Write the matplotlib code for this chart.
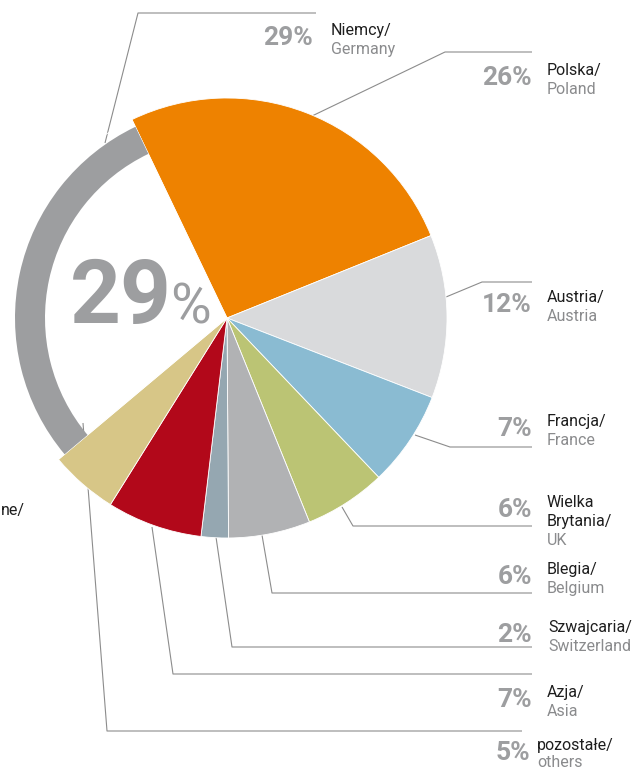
import matplotlib
matplotlib.use("Agg")
import matplotlib.pyplot as plt

# ---- data -------------------------------------------------------------
labels_pl = ["Polska/", "Austria/", "Francja/", "Wielka\nBrytania/", "Blegia/",
             "Szwajcaria/", "Azja/", "pozostałe/", "Niemcy/"]
labels_en = ["Poland", "Austria", "France", "UK", "Belgium",
             "Switzerland", "Asia", "others", "Germany"]
shares = [26, 12, 7, 6, 6, 2, 7, 5, 29]
highlight_share = 29   # big number in the ring (Germany)

colors = ["#EE8200", "#D9DADC", "#8ABBD2", "#BBC474", "#B1B2B4",
          "#95A7B1", "#B2081A", "#D7C687", "none"]
ring_color = "#9D9EA0"

# ---- figure: axes in pixel units (y up) -------------------------------
W, H = 633, 772
fig = plt.figure(figsize=(W / 100, H / 100), dpi=100)
ax = fig.add_axes([0, 0, 1, 1])

def Y(y):
    """convert a top-down pixel row to the axes' y-up coordinate"""
    return H - y

cx, cy = 227, Y(318)
start = 115.6

# filled wedges for every country except Germany
ax.pie(shares, colors=colors, startangle=start, counterclock=False,
       radius=220, center=(cx, cy),
       wedgeprops=dict(linewidth=0.6, edgecolor="white"))

# Germany shown as a thick grey arc
ring_colors = ["none"] * (len(shares) - 1) + [ring_color]
ax.pie(shares, colors=ring_colors, startangle=start, counterclock=False,
       radius=212, center=(cx, cy),
       wedgeprops=dict(width=30, linewidth=0))

ax.set_xlim(0, W)
ax.set_ylim(0, H)
ax.set_aspect("equal")
ax.axis("off")

FONT = "Roboto"
PCT_COL = "#9D9EA0"
PL_COL = "#1E1E1E"
EN_COL = "#8A8B8D"

# leader lines (pixel rows from the top)
leaders = [
    [(312, 116), (445, 52), (532, 52)],
    [(446, 297), (482, 282), (532, 282)],
    [(415, 435), (450, 447), (532, 447)],
    [(342, 507), (353, 526), (532, 526)],
    [(262, 535), (272, 593), (532, 593)],
    [(216, 537), (232, 647), (532, 647)],
    [(152, 527), (173, 674), (532, 674)],
    [(83, 423), (107, 731), (522, 731)],
    [(105, 143), (138, 13), (316, 13)],
]
# (percent right edge x, label left x, first label baseline row)
label_pos = [
    (532, 547, 75),
    (532, 547, 302),
    (532, 547, 426),
    (532, 547, 507),
    (532, 547, 574),
    (532, 548, 632),
    (532, 547, 697),
    (530, 537, 750),
    (313, 331, 35),
]

for pts, (px, lx, by), share, pl, en in zip(leaders, label_pos, shares,
                                            labels_pl, labels_en):
    xs = [p[0] for p in pts]
    ys = [Y(p[1]) for p in pts]
    ax.plot(xs, ys, color="#8C8C8C", lw=0.8, zorder=0, solid_capstyle="butt")

    ax.text(px, Y(by + 10), f"{share}%", ha="right", va="baseline",
            fontsize=19, fontweight="bold", color=PCT_COL, family=FONT)
    lines = pl.split("\n")
    step = 19 if by < 740 else 17
    for i, line in enumerate(lines):
        ax.text(lx, Y(by + step * i), line, ha="left", va="baseline",
                fontsize=11.5, color=PL_COL, family=FONT)
    ax.text(lx, Y(by + step * len(lines)), en, ha="left", va="baseline",
            fontsize=11.5, color=EN_COL, family=FONT)

# big share inside the ring
ax.text(70, Y(323), f"{highlight_share}", ha="left", va="baseline",
        fontsize=64, fontweight="bold", color=PCT_COL, family=FONT)
ax.text(170, Y(324), "%", ha="left", va="baseline",
        fontsize=40, fontweight="normal", color=PCT_COL, family=FONT)

# label of the neighbouring panel at the left edge
ax.text(1, Y(515), "ne/", ha="left", va="baseline",
        fontsize=11.5, color=PL_COL, family=FONT)

fig.savefig("out.png", dpi=100)
